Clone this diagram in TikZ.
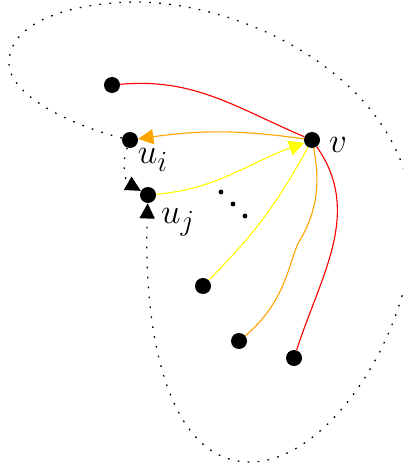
\documentclass[tikz,border=0pt]{standalone}
\usetikzlibrary{arrows.meta}
\definecolor{edgered}{HTML}{FF0000}
\definecolor{edgeorange}{HTML}{FFA500}
\definecolor{edgeyellow}{HTML}{FFFF00}

\begin{document}
\begin{tikzpicture}[
  vtx/.style={circle, fill=black, inner sep=0pt, minimum size=0.4cm},
  tinydot/.style={circle, fill=black, inner sep=0pt, minimum size=0.12cm},
  lab/.style={font=\Huge},
  red_e/.style={draw=edgered, line width=0.8pt},
  orange_e/.style={draw=edgeorange, line width=0.8pt},
  yellow_e/.style={draw=edgeyellow, line width=0.8pt},
  tip/.style={-{Triangle[length=0.38cm, width=0.38cm]}},
  boundary/.style={draw=black, line width=0.9pt, dash pattern=on 1.2pt off 5.9pt},
]
\useasboundingbox (0,0) rectangle (10.075,-11.7);
\clip (0,0) rectangle (10.075,-11.7);
\node[vtx] (n_red_top) at (2.8, -2.125) {};
\node[vtx] (u_i) at (3.25, -3.5) {};
\node[vtx] (v) at (7.8, -3.5) {};
\node[vtx] (u_j) at (3.7, -4.875) {};
\node[vtx] (n_yellow) at (5.075, -7.15) {};
\node[vtx] (n_orange) at (5.975, -8.525) {};
\node[vtx] (n_red) at (7.35, -8.95) {};
\node[lab] (lab_v) at (8.45, -3.62) {$v$};
\node[lab] (lab_ui) at (3.82, -4.0) {$u_i$};
\node[lab] (lab_uj) at (4.45, -5.55) {$u_j$};
\foreach \i/\x/\y in {1/5.525/-4.8, 2/5.825/-5.1, 3/6.125/-5.4}
  \node[tinydot] (dot\i) at (\x,\y) {};
% edges at v
\draw[red_e] (n_red_top) to[out=5, in=157] (v);
\draw[red_e] (v) to[out=-55, in=72] (n_red);
\draw[orange_e, tip] (v) to[bend right=8] (u_i);
\draw[orange_e] (v) .. controls (8.0,-4.5) and (7.95,-5.25) .. (7.5,-6.0)
  .. controls (7.225,-6.45) and (7.2,-7.5) .. (n_orange);
\draw[yellow_e, tip] (u_j) to[out=5, in=200] (v);
\draw[yellow_e] (v) to[bend left=8] (n_yellow);
% the region boundary, from u_i round to u_j
\draw[boundary, tip] (u_i) to[out=-110, in=150] (u_j);
\draw[boundary, tip] (u_i) .. controls (1.75,-3.125) and (0.225,-2.375) .. (0.225,-1.575)
  .. controls (0.225,-0.55) and (1.75,-0.05) .. (3.5,-0.05)
  .. controls (6.5,-0.125) and (10.325,-2.25) .. (10.325,-5.625)
  .. controls (10.325,-8.25) and (8.25,-11.55) .. (6.25,-11.55)
  .. controls (4.25,-11.55) and (3.575,-8.5) .. (u_j);
\end{tikzpicture}
\end{document}
